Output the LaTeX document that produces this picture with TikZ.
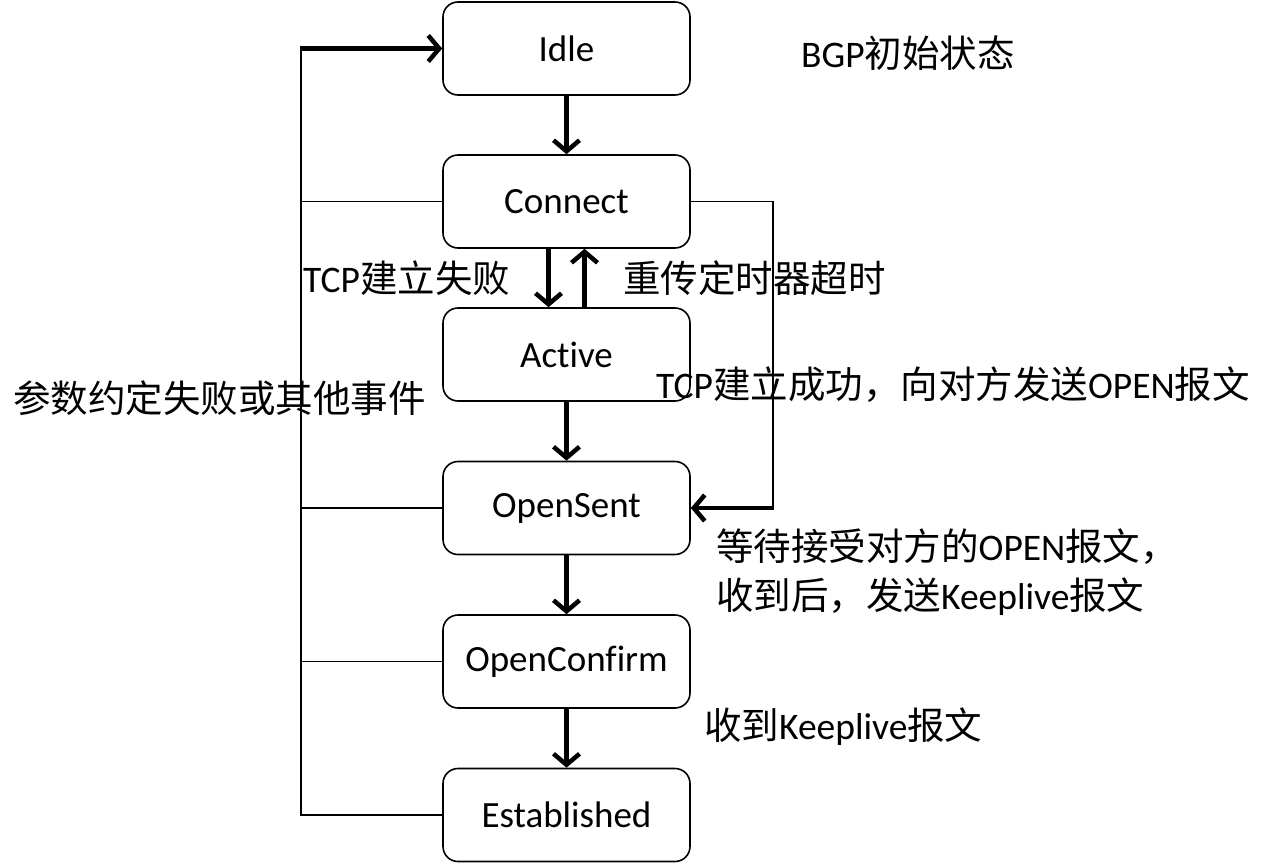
\documentclass[tikz,border=0pt]{standalone}
\usepackage{fontspec}
\setmainfont{Carlito}[Ligatures=NoCommon]
\newfontfamily\cjk{Noto Sans CJK SC}
\newcommand\zh[1]{{\cjk #1}}
\usetikzlibrary{arrows.meta}
\begin{document}
\begin{tikzpicture}[x=1pt,y=-1pt,
  state/.style={draw,line width=1.6pt,rounded corners=15pt,minimum width=247pt,minimum height=93pt,inner sep=0pt,font=\fontsize{37}{44}\selectfont},
  lbl/.style={inner sep=0pt,anchor=west,font=\fontsize{37.5}{49}\selectfont,align=left},
  arr/.style={line width=4.5pt,-{Straight Barb[length=11pt,width=26pt]}},
  thin line/.style={line width=1.8pt}]
\useasboundingbox (0,0) rectangle (1267,865);
\node[state] (idle) at (566.5,48.5) {Idle};
\node[state] (connect) at (566.5,201.5) {Connect};
\node[state] (active) at (566.5,354.5) {Ac\kern0pt tive};
\node[state] (opensent) at (566.5,508) {OpenSent};
\node[state] (openconfirm) at (566.5,661.5) {OpenConfirm};
\node[state] (established) at (566.5,815) {Established};
\draw[arr] (idle) -- (connect);
\draw[arr] ([xshift=-18pt]connect.south) -- ([xshift=-18pt]active.north);
\draw[arr] ([xshift=18pt]active.north) -- ([xshift=18pt]connect.south);
\draw[arr] (active) -- (opensent);
\draw[arr] (opensent) -- (openconfirm);
\draw[arr] (openconfirm) -- (established);
\coordinate (L) at (301,48.5);
\draw[thin line] (established.west) -| (L);
\draw[arr] ([xshift=-1pt]L) -- (idle.west);
\draw[thin line] (connect.west) -- (connect.west -| L);
\draw[thin line] (opensent.west) -- (opensent.west -| L);
\draw[thin line] (openconfirm.west) -- (openconfirm.west -| L);
\coordinate (R) at (773,201.5);
\draw[thin line] (connect.east) -- (R) -- (R |- opensent.east);
\draw[arr] ([xshift=1pt]R |- opensent.east) -- (opensent.east);
\node[lbl] (t1) at (801,53) {BGP\zh{初始状态}};
\node[lbl] (t2) at (303,278) {TCP\zh{建立失败}};
\node[lbl] (t3) at (623,278) {\zh{重传定时器超时}};
\node[lbl] (t4) at (13,398) {\zh{参数约定失败或其他事件}};
\node[lbl] (t5) at (656,385) {TCP\zh{建立成功，向对方发送}OPEN\zh{报文}};
\node[lbl] (t6) at (716,572) {\zh{等待接受对方的}OPEN\zh{报文，}\\\zh{收到后，发送}Keeplive\zh{报文}};
\node[lbl] (t7) at (704,727) {\zh{收到}Keeplive\zh{报文}};
\end{tikzpicture}
\end{document}
